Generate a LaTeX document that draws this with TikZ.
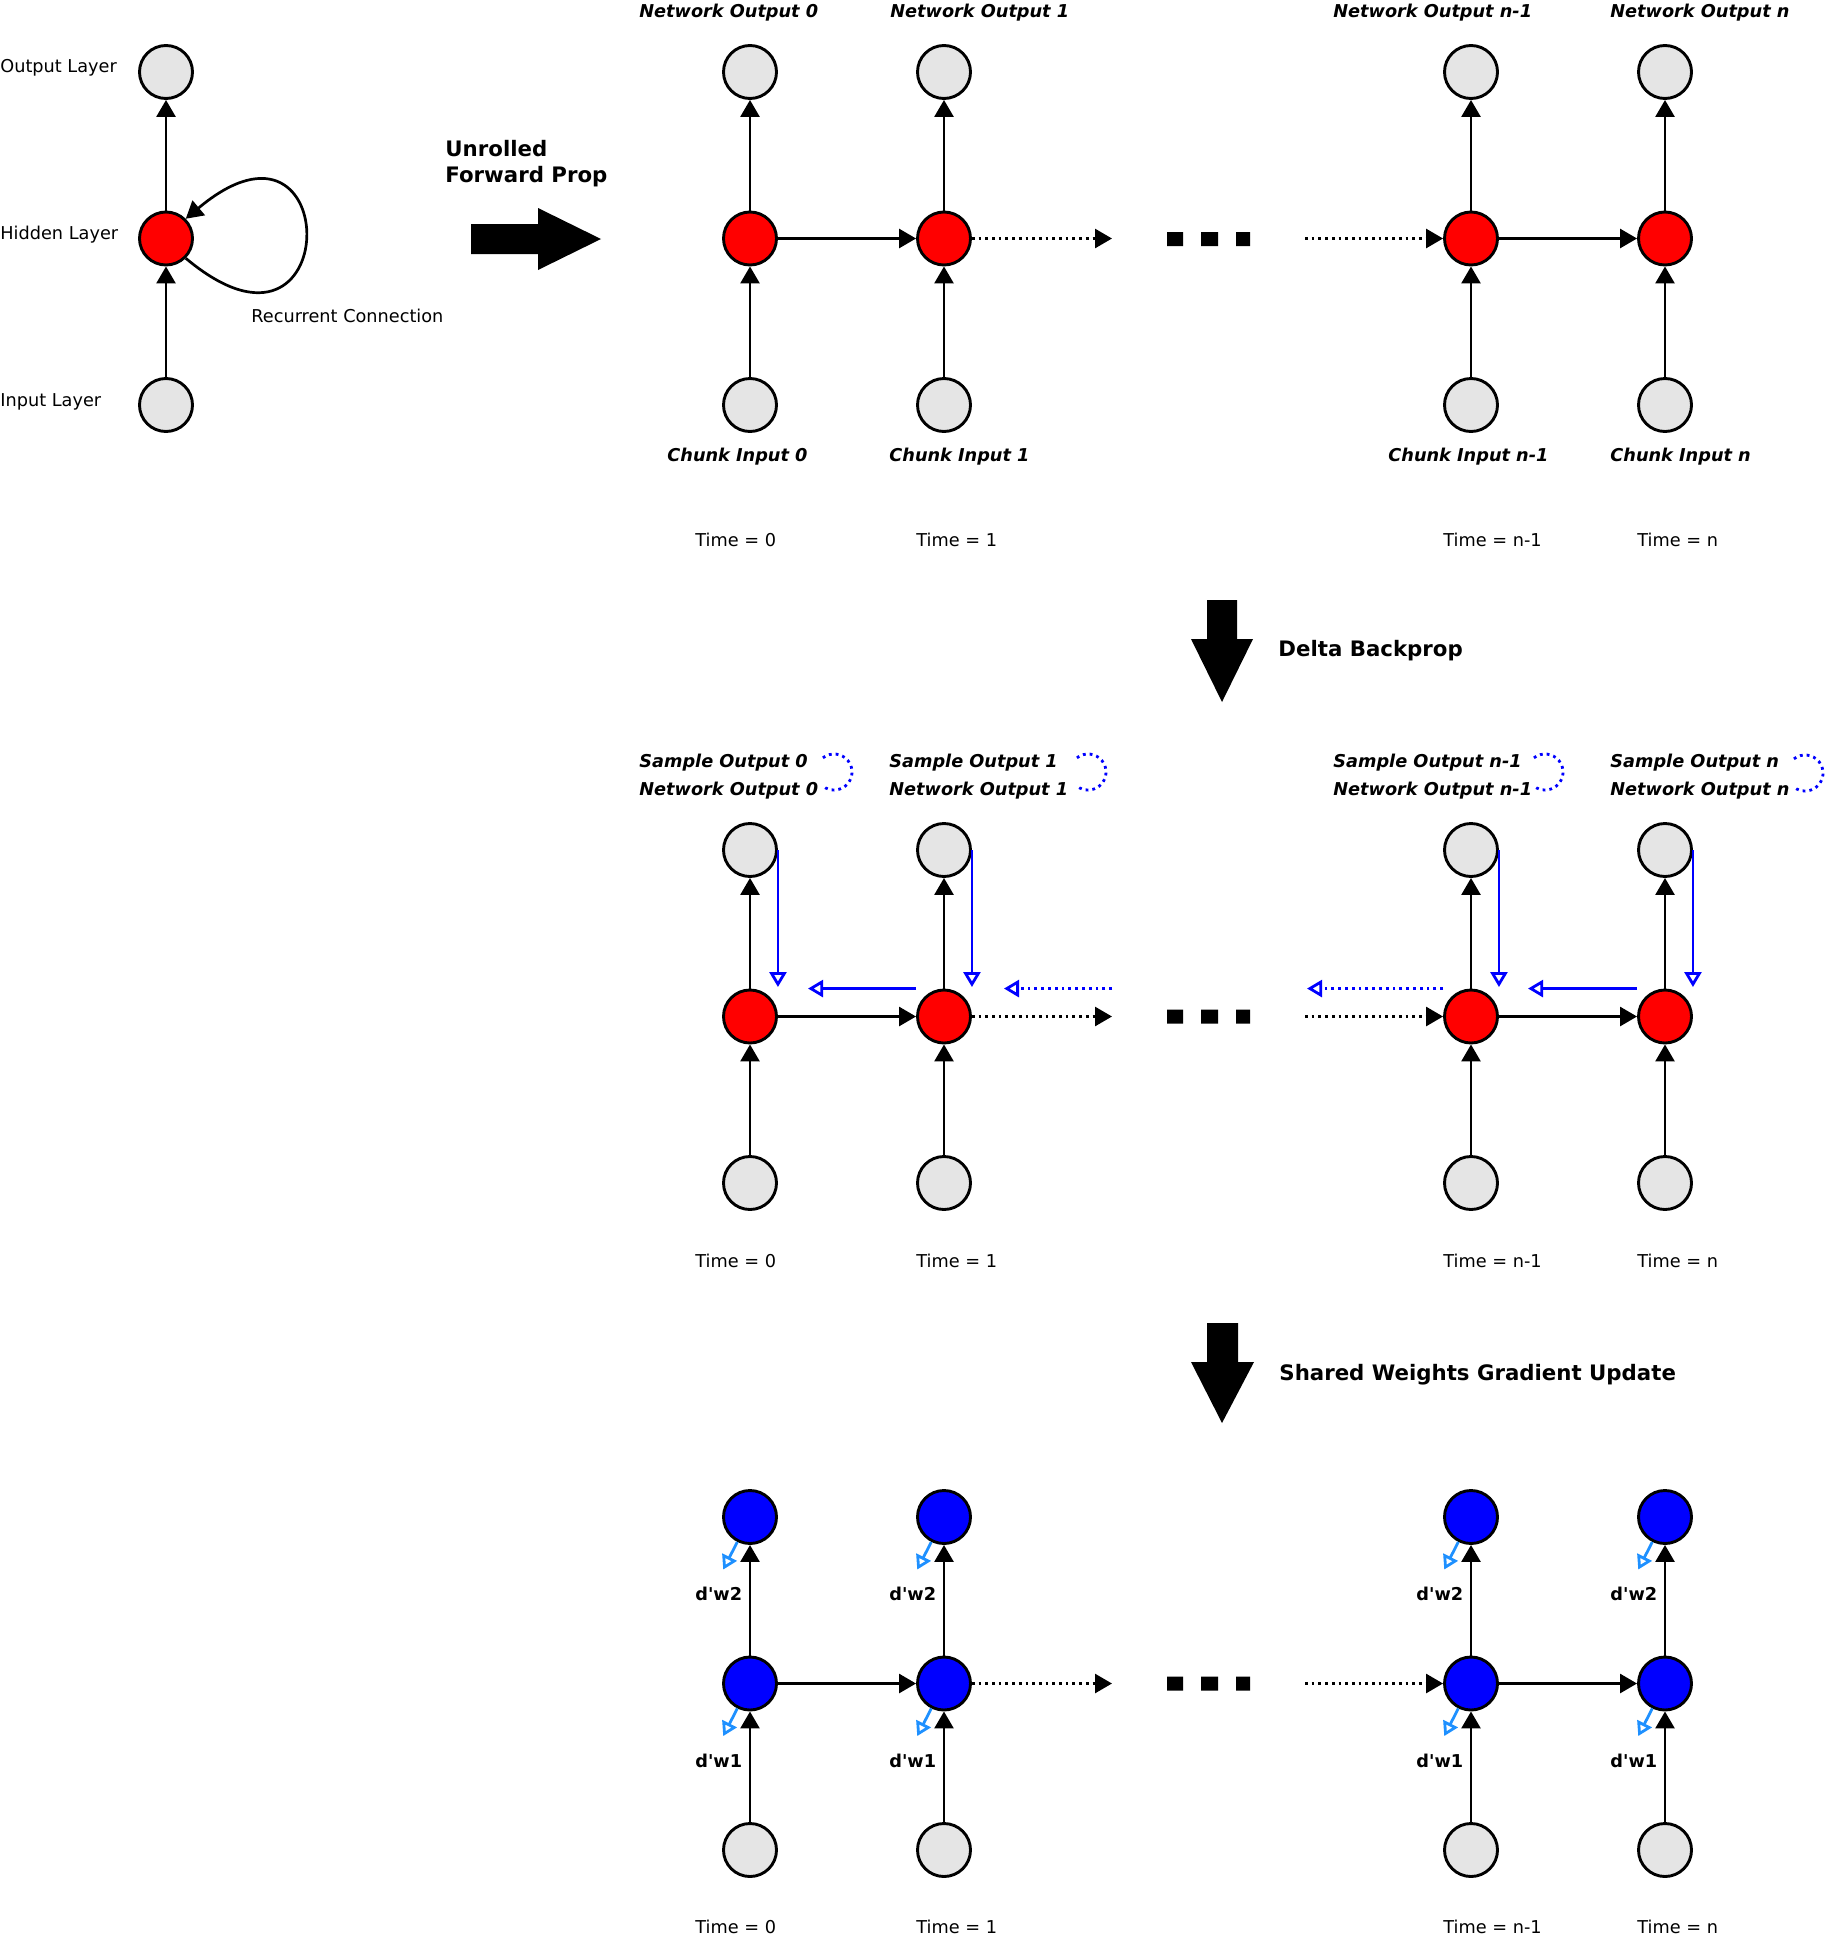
\documentclass[tikz,border=0pt]{standalone}
\usepackage{fontspec}
\setmainfont{DejaVu Sans}[Ligatures=TeXOff]
\usepackage{tikz}
\usetikzlibrary{arrows.meta}
\definecolor{nodegray}{RGB}{229,229,229}
\definecolor{gradblue}{RGB}{30,144,255}

\begin{document}
\begin{tikzpicture}[x=50pt, y=50pt,
    unit/.style={circle, draw, line width=1.45pt, minimum size=26.5pt, inner sep=0pt},
    plain/.style={unit, fill=nodegray},
    hid/.style={unit, fill=red},
    upd/.style={unit, fill=blue},
    fwd/.style={line width=1.35pt, -{Triangle[length=8.5pt, width=9.5pt]}},
    back/.style={blue, line width=1.4pt, -{Triangle[open, length=7.5pt, width=8.5pt]}},
    grad/.style={gradblue, line width=1.4pt, -{Triangle[open, length=7pt, width=8pt]}},
    cmp/.style={blue, line width=1.4pt, dotted},
    txt/.style={inner sep=0pt, anchor=base west, font=\fontsize{8.85pt}{10.6pt}\selectfont},
    ital/.style={txt, font=\fontsize{8.85pt}{10.6pt}\selectfont\bfseries\itshape},
    ttl/.style={txt, font=\fontsize{10.65pt}{13pt}\selectfont\bfseries}]
    \useasboundingbox (0,0) rectangle (18.25,-19.38);

    % Folded network
    \node[plain] (lo) at (1.66,-0.72) {};
    \node[hid] (lh) at (1.66,-2.385) {};
    \node[plain] (li) at (1.66,-4.05) {};
    \draw[fwd] (li) -- (lh);
    \draw[fwd] (lh) -- (lo);
    \draw[fwd] (lh.-45) .. controls +(-40:2.08) and +(40:2.08) .. (lh.45);
    \node[txt] (tlo) at (0,-0.727) {Output Layer};
    \node[txt] (tlh) at (0,-2.393) {Hidden Layer};
    \node[txt] (tli) at (0,-4.06) {Input Layer};
    \node[txt] (trc) at (2.51,-3.227) {Recurrent Connection};

    % Unrolled arrow
    \fill (4.71,-2.24) -- (5.38,-2.24) -- (5.38,-2.08) -- (6.01,-2.39) -- (5.38,-2.70) -- (5.38,-2.54) -- (4.71,-2.54) -- cycle;
    \node[ttl] (tur1) at (4.45,-1.56) {Unrolled};
    \node[ttl] (tur2) at (4.45,-1.827) {Forward Prop};

    % Forward prop
    \node[plain] (o0) at (7.50,-0.72) {};
    \node[plain] (o1) at (9.44,-0.72) {};
    \node[plain] (o2) at (14.71,-0.72) {};
    \node[plain] (o3) at (16.65,-0.72) {};
    \node[hid] (h0) at (7.50,-2.385) {};
    \node[hid] (h1) at (9.44,-2.385) {};
    \node[hid] (h2) at (14.71,-2.385) {};
    \node[hid] (h3) at (16.65,-2.385) {};
    \node[plain] (i0) at (7.50,-4.05) {};
    \node[plain] (i1) at (9.44,-4.05) {};
    \node[plain] (i2) at (14.71,-4.05) {};
    \node[plain] (i3) at (16.65,-4.05) {};
    \coordinate (f1) at (11.12,-2.385);
    \coordinate (f2) at (13.05,-2.385);
    \draw[fwd] (i0) -- (h0); \draw[fwd] (h0) -- (o0);
    \draw[fwd] (i1) -- (h1); \draw[fwd] (h1) -- (o1);
    \draw[fwd] (i2) -- (h2); \draw[fwd] (h2) -- (o2);
    \draw[fwd] (i3) -- (h3); \draw[fwd] (h3) -- (o3);
    \draw[fwd] (h0) -- (h1);
    \draw[fwd, dotted] (h1) -- (f1);
    \draw[fwd, dotted] (f2) -- (h2);
    \draw[fwd] (h2) -- (h3);
    \fill (11.67,-2.32) rectangle +(0.16,-0.14) (12.01,-2.32) rectangle +(0.17,-0.14) (12.36,-2.32) rectangle +(0.14,-0.14);
    \node[ital] (no0) at (6.39,-0.173) {Network Output 0};
    \node[ital] (no1) at (8.90,-0.173) {Network Output 1};
    \node[ital] (no2) at (13.33,-0.173) {Network Output n-1};
    \node[ital] (no3) at (16.10,-0.173) {Network Output n};
    \node[ital] (ci0) at (6.67,-4.617) {Chunk Input 0};
    \node[ital] (ci1) at (8.89,-4.617) {Chunk Input 1};
    \node[ital] (ci2) at (13.88,-4.617) {Chunk Input n-1};
    \node[ital] (ci3) at (16.10,-4.617) {Chunk Input n};
    \node[txt] (t0) at (6.95,-5.46) {Time = 0};
    \node[txt] (t1) at (9.16,-5.46) {Time = 1};
    \node[txt] (t2) at (14.43,-5.46) {Time = n-1};
    \node[txt] (t3) at (16.37,-5.46) {Time = n};

    % Delta backprop arrow
    \fill (12.07,-6.00) -- (12.37,-6.00) -- (12.37,-6.39) -- (12.53,-6.39) -- (12.22,-7.02) -- (11.91,-6.39) -- (12.07,-6.39) -- cycle;
    \node[ttl] (tdb) at (12.78,-6.567) {Delta Backprop};

    % Delta backprop
    \node[plain] (bo0) at (7.50,-8.50) {};
    \node[plain] (bo1) at (9.44,-8.50) {};
    \node[plain] (bo2) at (14.71,-8.50) {};
    \node[plain] (bo3) at (16.65,-8.50) {};
    \node[hid] (bh0) at (7.50,-10.165) {};
    \node[hid] (bh1) at (9.44,-10.165) {};
    \node[hid] (bh2) at (14.71,-10.165) {};
    \node[hid] (bh3) at (16.65,-10.165) {};
    \node[plain] (bi0) at (7.50,-11.83) {};
    \node[plain] (bi1) at (9.44,-11.83) {};
    \node[plain] (bi2) at (14.71,-11.83) {};
    \node[plain] (bi3) at (16.65,-11.83) {};
    \coordinate (bf1) at (11.12,-10.165);
    \coordinate (bf2) at (13.05,-10.165);
    \draw[fwd] (bi0) -- (bh0); \draw[fwd] (bh0) -- (bo0);
    \draw[fwd] (bi1) -- (bh1); \draw[fwd] (bh1) -- (bo1);
    \draw[fwd] (bi2) -- (bh2); \draw[fwd] (bh2) -- (bo2);
    \draw[fwd] (bi3) -- (bh3); \draw[fwd] (bh3) -- (bo3);
    \draw[fwd] (bh0) -- (bh1);
    \draw[fwd, dotted] (bh1) -- (bf1);
    \draw[fwd, dotted] (bf2) -- (bh2);
    \draw[fwd] (bh2) -- (bh3);
    \fill (11.67,-10.095) rectangle +(0.16,-0.14) (12.01,-10.095) rectangle +(0.17,-0.14) (12.36,-10.095) rectangle +(0.14,-0.14);
    \draw[back] (bo0.east) -- ++(0,-1.37);
    \draw[back] (bo1.east) -- ++(0,-1.37);
    \draw[back] (bo2.east) -- ++(0,-1.37);
    \draw[back] (bo3.east) -- ++(0,-1.37);
    \draw[back] (bh1.west |- bh1.north) -- ++(-1.08,0);
    \draw[back, dotted] (bf1 |- bh1.north) -- ++(-1.08,0);
    \draw[back, dotted] (bh2.west |- bh2.north) -- ++(-1.36,0);
    \draw[back] (bh3.west |- bh3.north) -- ++(-1.09,0);
    \node[ital] (so0) at (6.39,-7.677) {Sample Output 0};
    \node[ital] (so1) at (8.89,-7.677) {Sample Output 1};
    \node[ital] (so2) at (13.33,-7.677) {Sample Output n-1};
    \node[ital] (so3) at (16.10,-7.677) {Sample Output n};
    \node[ital] (bno0) at (6.39,-7.957) {Network Output 0};
    \node[ital] (bno1) at (8.89,-7.957) {Network Output 1};
    \node[ital] (bno2) at (13.33,-7.957) {Network Output n-1};
    \node[ital] (bno3) at (16.10,-7.957) {Network Output n};
    \draw[cmp] (8.34,-7.72) ++(128:0.18) arc[start angle=128, end angle=-128, radius=0.18];
    \draw[cmp] (10.88,-7.72) ++(128:0.18) arc[start angle=128, end angle=-128, radius=0.18];
    \draw[cmp] (15.45,-7.72) ++(128:0.18) arc[start angle=128, end angle=-128, radius=0.18];
    \draw[cmp] (18.05,-7.73) ++(128:0.18) arc[start angle=128, end angle=-128, radius=0.18];
    \node[txt] (bt0) at (6.95,-12.677) {Time = 0};
    \node[txt] (bt1) at (9.16,-12.677) {Time = 1};
    \node[txt] (bt2) at (14.43,-12.677) {Time = n-1};
    \node[txt] (bt3) at (16.37,-12.677) {Time = n};

    % Gradient update arrow
    \fill (12.07,-13.23) -- (12.38,-13.23) -- (12.38,-13.62) -- (12.54,-13.62) -- (12.22,-14.23) -- (11.91,-13.62) -- (12.07,-13.62) -- cycle;
    \node[ttl] (tgu) at (12.79,-13.807) {Shared Weights Gradient Update};

    % Gradient update
    \node[upd] (go0) at (7.50,-15.17) {};
    \node[upd] (go1) at (9.44,-15.17) {};
    \node[upd] (go2) at (14.71,-15.17) {};
    \node[upd] (go3) at (16.65,-15.17) {};
    \node[upd] (gh0) at (7.50,-16.835) {};
    \node[upd] (gh1) at (9.44,-16.835) {};
    \node[upd] (gh2) at (14.71,-16.835) {};
    \node[upd] (gh3) at (16.65,-16.835) {};
    \node[plain] (gi0) at (7.50,-18.50) {};
    \node[plain] (gi1) at (9.44,-18.50) {};
    \node[plain] (gi2) at (14.71,-18.50) {};
    \node[plain] (gi3) at (16.65,-18.50) {};
    \coordinate (gf1) at (11.12,-16.835);
    \coordinate (gf2) at (13.05,-16.835);
    \draw[fwd] (gi0) -- (gh0); \draw[fwd] (gh0) -- (go0);
    \draw[fwd] (gi1) -- (gh1); \draw[fwd] (gh1) -- (go1);
    \draw[fwd] (gi2) -- (gh2); \draw[fwd] (gh2) -- (go2);
    \draw[fwd] (gi3) -- (gh3); \draw[fwd] (gh3) -- (go3);
    \draw[fwd] (gh0) -- (gh1);
    \draw[fwd, dotted] (gh1) -- (gf1);
    \draw[fwd, dotted] (gf2) -- (gh2);
    \draw[fwd] (gh2) -- (gh3);
    \fill (11.67,-16.765) rectangle +(0.16,-0.14) (12.01,-16.765) rectangle +(0.17,-0.14) (12.36,-16.765) rectangle +(0.14,-0.14);
    \draw[grad] (go0.243) -- ++(243:0.31); \draw[grad] (gh0.243) -- ++(243:0.31);
    \draw[grad] (go1.243) -- ++(243:0.31); \draw[grad] (gh1.243) -- ++(243:0.31);
    \draw[grad] (go2.243) -- ++(243:0.31); \draw[grad] (gh2.243) -- ++(243:0.31);
    \draw[grad] (go3.243) -- ++(243:0.31); \draw[grad] (gh3.243) -- ++(243:0.31);
    \node[txt, font=\fontsize{8.85pt}{10.6pt}\selectfont\bfseries] (dw20) at (6.95,-16.007) {d'w2};
    \node[txt, font=\fontsize{8.85pt}{10.6pt}\selectfont\bfseries] (dw21) at (8.89,-16.007) {d'w2};
    \node[txt, font=\fontsize{8.85pt}{10.6pt}\selectfont\bfseries] (dw22) at (14.16,-16.007) {d'w2};
    \node[txt, font=\fontsize{8.85pt}{10.6pt}\selectfont\bfseries] (dw23) at (16.10,-16.007) {d'w2};
    \node[txt, font=\fontsize{8.85pt}{10.6pt}\selectfont\bfseries] (dw10) at (6.95,-17.67) {d'w1};
    \node[txt, font=\fontsize{8.85pt}{10.6pt}\selectfont\bfseries] (dw11) at (8.89,-17.67) {d'w1};
    \node[txt, font=\fontsize{8.85pt}{10.6pt}\selectfont\bfseries] (dw12) at (14.16,-17.67) {d'w1};
    \node[txt, font=\fontsize{8.85pt}{10.6pt}\selectfont\bfseries] (dw13) at (16.10,-17.67) {d'w1};
    \node[txt] (gt0) at (6.95,-19.33) {Time = 0};
    \node[txt] (gt1) at (9.16,-19.33) {Time = 1};
    \node[txt] (gt2) at (14.43,-19.33) {Time = n-1};
    \node[txt] (gt3) at (16.37,-19.33) {Time = n};
\end{tikzpicture}
\end{document}
